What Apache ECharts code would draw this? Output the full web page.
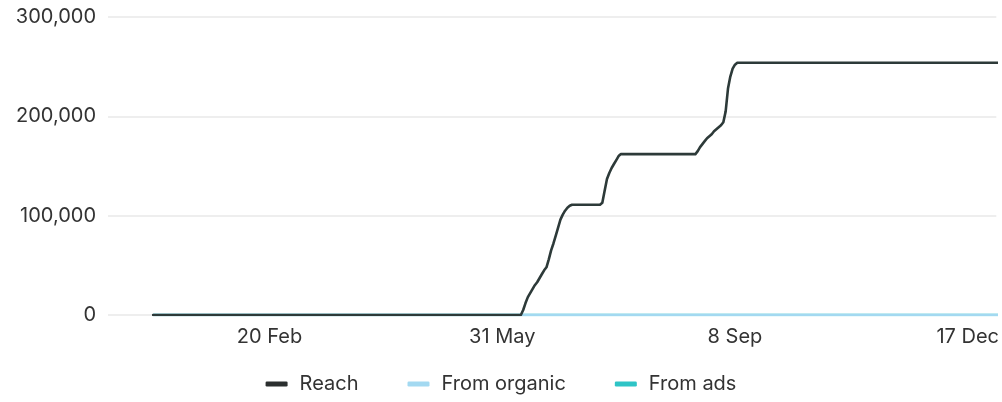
<!DOCTYPE html>
<html><head><meta charset="utf-8">
<script src="https://cdn.jsdelivr.net/npm/echarts@6/dist/echarts.min.js"></script>
<style>html,body{margin:0;padding:0;background:#fff}#c{width:1002px;height:402px}</style>
</head><body><div id="c"></div>
<script>
const reachDates = ['2023-01-01','2023-06-08','2023-06-09','2023-06-10','2023-06-11','2023-06-12','2023-06-13','2023-06-14','2023-06-15','2023-06-16','2023-06-17','2023-06-18','2023-06-19','2023-06-20','2023-06-21','2023-06-22','2023-06-23','2023-06-24','2023-06-25','2023-06-26','2023-06-27','2023-06-28','2023-06-29','2023-06-30','2023-07-12','2023-07-13','2023-07-14','2023-07-15','2023-07-16','2023-07-17','2023-07-18','2023-07-19','2023-07-20','2023-07-21','2023-08-22','2023-08-23','2023-08-24','2023-08-25','2023-08-26','2023-08-27','2023-08-28','2023-08-29','2023-08-30','2023-08-31','2023-09-01','2023-09-02','2023-09-03','2023-09-04','2023-09-05','2023-09-06','2023-09-07','2023-09-08','2023-09-09','2023-12-31'];
const reachValues = [0,0,5000,12000,18000,22000,26000,30000,33000,37000,41000,45000,48000,56000,65000,72000,80000,88000,96000,101000,105000,108000,110000,111000,111000,113000,125000,137000,143000,148000,152000,156000,160000,162000,162000,165000,169000,172000,175000,178000,180000,182000,185000,187000,189000,191000,194000,205000,228000,240000,248000,252000,254000,254000];
const organicDates = ['2023-01-01','2023-12-31'];
const organicValues = [0,0];
const adsDates = ['2023-01-01','2023-12-31'];
const adsValues = [0,0];
const xTickDates = ['2023-02-20','2023-05-31','2023-09-08','2023-12-17'];
const yTicks = [0,100000,200000,300000];
const seriesNames = ['Reach','From organic','From ads'];

const ts = d => new Date(d + 'T00:00:00Z').getTime();
const pair = (ds, vs) => ds.map((d,i)=>[ts(d), vs[i]]);
const DAY = 86400000;
const MON = ['Jan','Feb','Mar','Apr','May','Jun','Jul','Aug','Sep','Oct','Nov','Dec'];
const font = 'Inter, "Noto Sans", sans-serif';

const chart = echarts.init(document.getElementById('c'), null, {renderer:'canvas'});
chart.setOption({
  animation:false,
  grid:{left:108, right:0, top:17, bottom:87, containLabel:false},
  legend:{
    data: seriesNames, top:369, left:'center', icon:'roundRect', itemWidth:22, itemHeight:5, itemGap:49,
    textStyle:{fontFamily:font, fontSize:20, color:'#333', padding:[0,0,0,7]}
  },
  xAxis:{
    type:'value', min: ts('2023-01-01') - 19.4*DAY, max: ts('2023-01-01') + 362.3*DAY,
    axisLine:{show:false}, axisTick:{show:false}, splitLine:{show:false},
    axisLabel:{
      customValues: xTickDates.map(ts), margin:12, color:'#333', fontFamily:font, fontSize:20,
      formatter: v => { const d = new Date(v); return d.getUTCDate() + ' ' + MON[d.getUTCMonth()]; }
    }
  },
  yAxis:{
    type:'value', min:0, max:300000, interval:100000,
    axisLine:{show:false}, axisTick:{show:false},
    splitLine:{lineStyle:{color:'#e8e8e8', width:1.5}},
    axisLabel:{margin:12, color:'#333', fontFamily:font, fontSize:20, formatter: v => v.toLocaleString('en-US')}
  },
  series:[
    {name:'From ads', type:'line', data:pair(adsDates, adsValues), showSymbol:false, z:2, clip:true,
     lineStyle:{color:'#2ec4c6', width:2.5}, itemStyle:{color:'#2ec4c6'}},
    {name:'From organic', type:'line', data:pair(organicDates, organicValues), showSymbol:false, z:3, clip:true,
     lineStyle:{color:'#a3d9f1', width:2.5}, itemStyle:{color:'#a3d9f1'}},
    {name:'Reach', type:'line', data:pair(reachDates, reachValues), showSymbol:false, z:4, clip:true,
     lineStyle:{color:'#2d3a39', width:2.6, join:'round', cap:'round'}, itemStyle:{color:'#2b2f2f'}}
  ]
});
</script></body></html>
